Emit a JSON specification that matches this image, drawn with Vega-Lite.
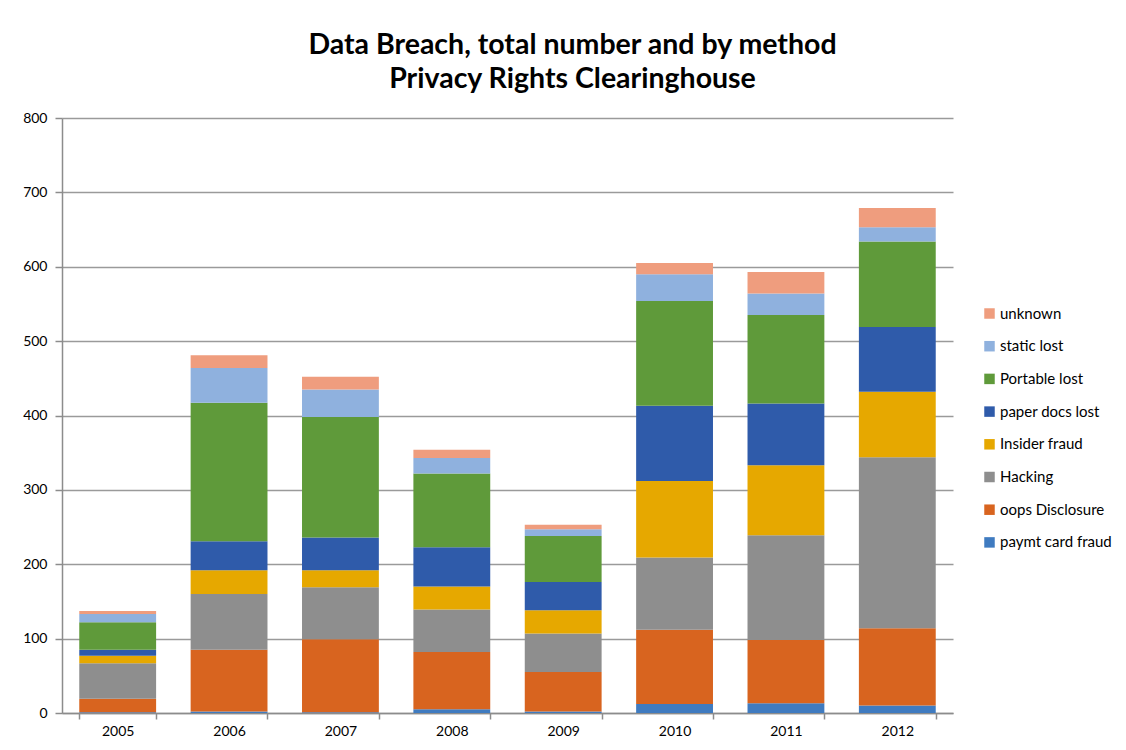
{
  "$schema": "https://vega.github.io/schema/vega-lite/v6.json",
  "width": 891,
  "height": 595,
  "autosize": {"type": "none"},
  "padding": {"left": 62, "top": 118, "right": 173, "bottom": 37},
  "background": "white",
  "config": {
    "font": "Lato",
    "view": {"stroke": null}
  },
  "title": {
    "text": ["Data Breach, total number and by method", "Privacy Rights Clearinghouse"],
    "fontSize": 28.5,
    "fontWeight": "bold",
    "font": "Lato",
    "lineHeight": 34,
    "offset": 18,
    "anchor": "middle",
    "dx": 65,
    "color": "black"
  },
  "data": {
    "values": [
      {"year": "2005", "method": "paymt card fraud", "ord": 1, "n": 1},
      {"year": "2005", "method": "oops Disclosure", "ord": 2, "n": 18},
      {"year": "2005", "method": "Hacking", "ord": 3, "n": 48},
      {"year": "2005", "method": "Insider fraud", "ord": 4, "n": 10},
      {"year": "2005", "method": "paper docs lost", "ord": 5, "n": 8},
      {"year": "2005", "method": "Portable lost", "ord": 6, "n": 37},
      {"year": "2005", "method": "static lost", "ord": 7, "n": 11},
      {"year": "2005", "method": "unknown", "ord": 8, "n": 4},
      {"year": "2006", "method": "paymt card fraud", "ord": 1, "n": 2},
      {"year": "2006", "method": "oops Disclosure", "ord": 2, "n": 83},
      {"year": "2006", "method": "Hacking", "ord": 3, "n": 75},
      {"year": "2006", "method": "Insider fraud", "ord": 4, "n": 32},
      {"year": "2006", "method": "paper docs lost", "ord": 5, "n": 39},
      {"year": "2006", "method": "Portable lost", "ord": 6, "n": 186},
      {"year": "2006", "method": "static lost", "ord": 7, "n": 47},
      {"year": "2006", "method": "unknown", "ord": 8, "n": 17},
      {"year": "2007", "method": "paymt card fraud", "ord": 1, "n": 1},
      {"year": "2007", "method": "oops Disclosure", "ord": 2, "n": 98},
      {"year": "2007", "method": "Hacking", "ord": 3, "n": 70},
      {"year": "2007", "method": "Insider fraud", "ord": 4, "n": 23},
      {"year": "2007", "method": "paper docs lost", "ord": 5, "n": 44},
      {"year": "2007", "method": "Portable lost", "ord": 6, "n": 162},
      {"year": "2007", "method": "static lost", "ord": 7, "n": 37},
      {"year": "2007", "method": "unknown", "ord": 8, "n": 17},
      {"year": "2008", "method": "paymt card fraud", "ord": 1, "n": 5},
      {"year": "2008", "method": "oops Disclosure", "ord": 2, "n": 77},
      {"year": "2008", "method": "Hacking", "ord": 3, "n": 57},
      {"year": "2008", "method": "Insider fraud", "ord": 4, "n": 31},
      {"year": "2008", "method": "paper docs lost", "ord": 5, "n": 53},
      {"year": "2008", "method": "Portable lost", "ord": 6, "n": 99},
      {"year": "2008", "method": "static lost", "ord": 7, "n": 21},
      {"year": "2008", "method": "unknown", "ord": 8, "n": 11},
      {"year": "2009", "method": "paymt card fraud", "ord": 1, "n": 2},
      {"year": "2009", "method": "oops Disclosure", "ord": 2, "n": 53},
      {"year": "2009", "method": "Hacking", "ord": 3, "n": 52},
      {"year": "2009", "method": "Insider fraud", "ord": 4, "n": 31},
      {"year": "2009", "method": "paper docs lost", "ord": 5, "n": 38},
      {"year": "2009", "method": "Portable lost", "ord": 6, "n": 62},
      {"year": "2009", "method": "static lost", "ord": 7, "n": 9},
      {"year": "2009", "method": "unknown", "ord": 8, "n": 6},
      {"year": "2010", "method": "paymt card fraud", "ord": 1, "n": 12},
      {"year": "2010", "method": "oops Disclosure", "ord": 2, "n": 100},
      {"year": "2010", "method": "Hacking", "ord": 3, "n": 97},
      {"year": "2010", "method": "Insider fraud", "ord": 4, "n": 103},
      {"year": "2010", "method": "paper docs lost", "ord": 5, "n": 101},
      {"year": "2010", "method": "Portable lost", "ord": 6, "n": 141},
      {"year": "2010", "method": "static lost", "ord": 7, "n": 36},
      {"year": "2010", "method": "unknown", "ord": 8, "n": 15},
      {"year": "2011", "method": "paymt card fraud", "ord": 1, "n": 13},
      {"year": "2011", "method": "oops Disclosure", "ord": 2, "n": 85},
      {"year": "2011", "method": "Hacking", "ord": 3, "n": 141},
      {"year": "2011", "method": "Insider fraud", "ord": 4, "n": 94},
      {"year": "2011", "method": "paper docs lost", "ord": 5, "n": 83},
      {"year": "2011", "method": "Portable lost", "ord": 6, "n": 119},
      {"year": "2011", "method": "static lost", "ord": 7, "n": 29},
      {"year": "2011", "method": "unknown", "ord": 8, "n": 29},
      {"year": "2012", "method": "paymt card fraud", "ord": 1, "n": 10},
      {"year": "2012", "method": "oops Disclosure", "ord": 2, "n": 104},
      {"year": "2012", "method": "Hacking", "ord": 3, "n": 230},
      {"year": "2012", "method": "Insider fraud", "ord": 4, "n": 88},
      {"year": "2012", "method": "paper docs lost", "ord": 5, "n": 87},
      {"year": "2012", "method": "Portable lost", "ord": 6, "n": 115},
      {"year": "2012", "method": "static lost", "ord": 7, "n": 19},
      {"year": "2012", "method": "unknown", "ord": 8, "n": 26}
    ]
  },
  "mark": {"type": "bar"},
  "encoding": {
    "x": {
      "field": "year",
      "type": "ordinal",
      "scale": {"paddingInner": 0.31, "paddingOuter": 0.155},
      "axis": {
        "title": null,
        "labelAngle": 0,
        "labelFontSize": 14,
        "labelColor": "black",
        "labelPadding": 5,
        "tickBand": "extent",
        "tickSize": 6,
        "tickColor": "#8c8c8c",
        "tickWidth": 1.5,
        "domainColor": "#8c8c8c",
        "domainWidth": 1.5,
        "grid": false
      }
    },
    "y": {
      "field": "n",
      "type": "quantitative",
      "stack": "zero",
      "scale": {"domain": [0, 800], "nice": false},
      "axis": {
        "title": null,
        "values": [0, 100, 200, 300, 400, 500, 600, 700, 800],
        "labelFontSize": 14,
        "labelColor": "black",
        "labelPadding": 8,
        "tickSize": 7,
        "tickColor": "#8c8c8c",
        "tickWidth": 1.5,
        "domainColor": "#8c8c8c",
        "domainWidth": 1.5,
        "grid": true,
        "gridColor": "#9a9a9a",
        "gridWidth": 1.5
      }
    },
    "color": {
      "field": "method",
      "type": "nominal",
      "scale": {
        "domain": ["unknown", "static lost", "Portable lost", "paper docs lost", "Insider fraud", "Hacking", "oops Disclosure", "paymt card fraud"],
        "range": ["#EF9D7E", "#8FB1DE", "#5F9A3A", "#2F5BAA", "#E6A800", "#8E8E8E", "#D8641F", "#3F7BC0"]
      },
      "legend": {
        "title": null,
        "orient": "none",
        "legendX": 920,
        "legendY": 188,
        "symbolType": "square",
        "symbolSize": 110,
        "symbolStrokeWidth": 0,
        "labelFontSize": 15,
        "labelColor": "black",
        "labelOffset": 3,
        "rowPadding": 16.7
      }
    },
    "order": {"field": "ord", "type": "quantitative", "sort": "ascending"}
  }
}
